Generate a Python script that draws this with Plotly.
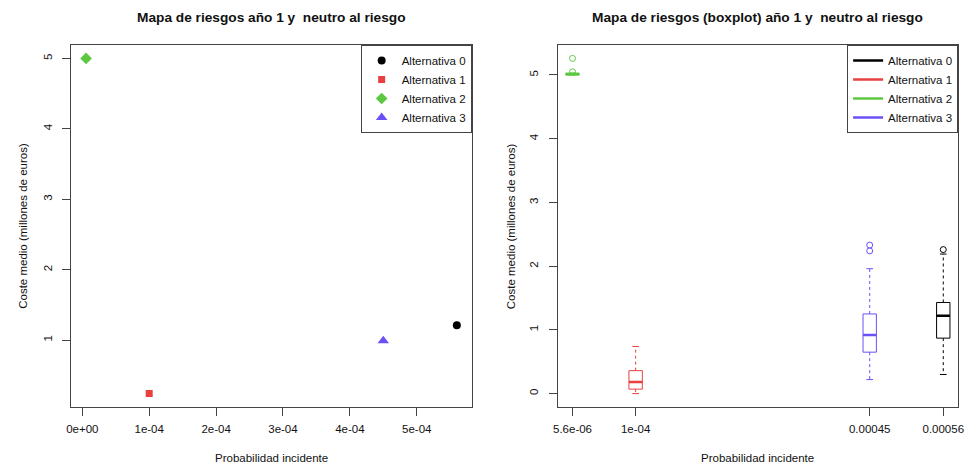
import plotly.graph_objects as go

W, H = 973, 465

# ---------------- data ----------------
alternatives = ["Alternativa 0", "Alternativa 1", "Alternativa 2", "Alternativa 3"]
colors = ["#000000", "#E8403F", "#5CC840", "#6B50F6"]
symbols = ["circle", "square", "diamond", "triangle-up"]
marker_sizes = [8, 7, 9, 10]

# left panel: mean cost vs incident probability
prob = [5.6e-4, 1.0e-4, 5.6e-6, 4.5e-4]
mean_cost = [1.21, 0.24, 5.0, 0.99]

# right panel: boxplot statistics per alternative
q1 = [0.87, 0.07, 5.00, 0.65]
median = [1.22, 0.18, 5.01, 0.92]
q3 = [1.43, 0.36, 5.03, 1.25]
lower_whisker = [0.30, 0.00, 5.00, 0.22]
upper_whisker = [2.19, 0.74, 5.03, 1.96]
outliers = [[2.26], [], [5.05, 5.26], [2.24, 2.33]]

left_xticks = [0, 1e-4, 2e-4, 3e-4, 4e-4, 5e-4]
left_xticktext = ["0e+00", "1e-04", "2e-04", "3e-04", "4e-04", "5e-04"]
left_yticks = [1, 2, 3, 4, 5]
right_xticks = [5.6e-6, 1e-4, 4.5e-4, 5.6e-4]
right_xticktext = ["5.6e-06", "1e-04", "0.00045", "0.00056"]
right_yticks = [0, 1, 2, 3, 4, 5]

title_left = "Mapa de riesgos año 1 y  neutro al riesgo"
title_right = "Mapa de riesgos (boxplot) año 1 y  neutro al riesgo"
xlabel = "Probabilidad incidente"
ylabel = "Coste medio (millones de euros)"

# ---------------- helpers ----------------
def padded(lo, hi, f=0.04):
    d = hi - lo
    return [lo - f * d, hi + f * d]

FONT = "Liberation Sans, Arial, Helvetica, sans-serif"
xr = padded(min(prob), max(prob))
yr_left = padded(min(mean_cost), max(mean_cost))
all_right = lower_whisker + upper_whisker + [v for o in outliers for v in o]
yr_right = padded(min(all_right), max(all_right))

fig = go.Figure()

# left scatter
for i, name in enumerate(alternatives):
    fig.add_trace(go.Scatter(
        x=[prob[i]], y=[mean_cost[i]], mode="markers", name=name,
        marker=dict(color=colors[i], symbol=symbols[i], size=marker_sizes[i], line=dict(width=0)),
        xaxis="x", yaxis="y", legend="legend", showlegend=True))

# right boxplots
half = 1.0e-5  # half box width in x units (style)
for i, name in enumerate(alternatives):
    p = prob[i]
    c = colors[i]
    # box
    fig.add_trace(go.Scatter(
        x=[p - half, p + half, p + half, p - half, p - half],
        y=[q1[i], q1[i], q3[i], q3[i], q1[i]], mode="lines",
        line=dict(color=c, width=1), xaxis="x2", yaxis="y2",
        showlegend=False, legendgroup=name, hoverinfo="skip"))
    # whiskers (dashed)
    fig.add_trace(go.Scatter(
        x=[p, p, None, p, p],
        y=[q3[i], upper_whisker[i], None, q1[i], lower_whisker[i]], mode="lines",
        line=dict(color=c, width=1, dash="3px,3px"), xaxis="x2", yaxis="y2",
        showlegend=False, legendgroup=name, hoverinfo="skip"))
    # caps
    fig.add_trace(go.Scatter(
        x=[p - half / 2, p + half / 2, None, p - half / 2, p + half / 2],
        y=[upper_whisker[i], upper_whisker[i], None, lower_whisker[i], lower_whisker[i]],
        mode="lines", line=dict(color=c, width=1), xaxis="x2", yaxis="y2",
        showlegend=False, legendgroup=name, hoverinfo="skip"))
    # outliers
    if outliers[i]:
        fig.add_trace(go.Scatter(
            x=[p] * len(outliers[i]), y=outliers[i], mode="markers",
            marker=dict(symbol="circle-open", color=c, size=6, line=dict(width=1)),
            xaxis="x2", yaxis="y2", showlegend=False, legendgroup=name))
    # median (legend entry)
    fig.add_trace(go.Scatter(
        x=[p - half, p + half], y=[median[i], median[i]], mode="lines", name=name,
        line=dict(color=c, width=2.5), xaxis="x2", yaxis="y2",
        legend="legend2", showlegend=True, legendgroup=name))

# ---------------- layout ----------------
px_x = lambda v: v / W
px_y = lambda v: 1 - v / H
dom_left = [px_x(67), px_x(472)]
dom_right = [px_x(559), px_x(964)]
dom_y = [px_y(407), px_y(45)]

axis_common = dict(showgrid=False, zeroline=False, showline=True, mirror=True,
                   linecolor="#444444", linewidth=1, ticks="outside", ticklen=8,
                   tickcolor="#444444", tickwidth=1,
                   tickfont=dict(family=FONT, size=11.5, color="#111111"))

fig.update_layout(
    width=W, height=H, margin=dict(l=0, r=0, t=0, b=0),
    paper_bgcolor="white", plot_bgcolor="white",
    font=dict(family=FONT, size=11.5, color="#111111"),
    xaxis=dict(domain=dom_left, anchor="y", range=xr, tickvals=left_xticks,
               ticktext=left_xticktext, ticklabelstandoff=3, **axis_common),
    yaxis=dict(domain=dom_y, anchor="x", range=yr_left, tickvals=left_yticks,
               tickangle=-90, ticklabelstandoff=6, **axis_common),
    xaxis2=dict(domain=dom_right, anchor="y2", range=xr, tickvals=right_xticks,
                ticktext=right_xticktext, ticklabelstandoff=3, **axis_common),
    yaxis2=dict(domain=dom_y, anchor="x2", range=yr_right, tickvals=right_yticks,
                tickangle=-90, ticklabelstandoff=6, **axis_common),
    legend=dict(x=dom_left[1], y=dom_y[1], xanchor="right", yanchor="top",
                bgcolor="white", bordercolor="#444444", borderwidth=1,
                font=dict(family=FONT, size=11.5, color="#111111"),
                tracegroupgap=0, itemwidth=30),
    legend2=dict(x=dom_right[1], y=dom_y[1], xanchor="right", yanchor="top",
                 bgcolor="white", bordercolor="#444444", borderwidth=1,
                 font=dict(family=FONT, size=11.5, color="#111111"),
                 tracegroupgap=0, itemwidth=30),
    showlegend=True,
)

ann_font = dict(family=FONT, size=11.5, color="#111111")
title_font = dict(family=FONT, size=13.7, color="#111111")
annotations = [
    dict(text="<b>%s</b>" % title_left, x=(dom_left[0] + dom_left[1]) / 2, y=px_y(18),
         font=title_font),
    dict(text="<b>%s</b>" % title_right, x=(dom_right[0] + dom_right[1]) / 2, y=px_y(18),
         font=title_font),
    dict(text=xlabel, x=(dom_left[0] + dom_left[1]) / 2, y=px_y(458), font=ann_font),
    dict(text=xlabel, x=(dom_right[0] + dom_right[1]) / 2, y=px_y(458), font=ann_font),
    dict(text=ylabel, x=px_x(18), y=(dom_y[0] + dom_y[1]) / 2, textangle=-90, font=ann_font),
    dict(text=ylabel, x=px_x(512), y=(dom_y[0] + dom_y[1]) / 2, textangle=-90, font=ann_font),
]
for a in annotations:
    a.update(xref="paper", yref="paper", showarrow=False, xanchor="center", yanchor="middle")
fig.update_layout(annotations=annotations)

fig.write_html("out.html")
